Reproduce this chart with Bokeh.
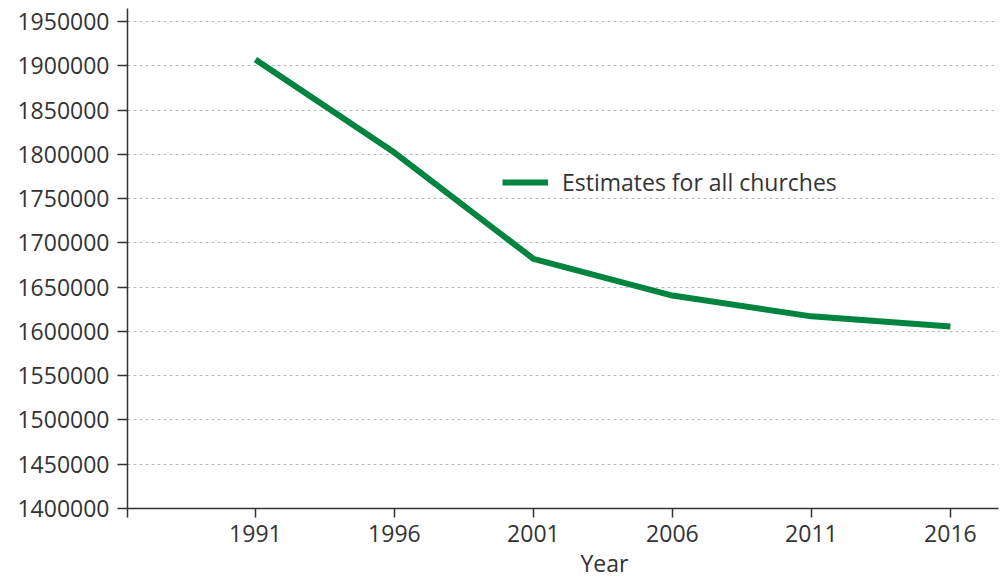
from bokeh.plotting import figure
from bokeh.models import ColumnDataSource, Range1d, FixedTicker, Legend, LegendItem, Title
from bokeh.embed import file_html
from bokeh.resources import INLINE

years = [1991, 1996, 2001, 2006, 2011, 2016]
estimates = [1907000, 1802000, 1682000, 1640500, 1617000, 1605500]
y_ticks = [1400000, 1450000, 1500000, 1550000, 1600000, 1650000, 1700000,
           1750000, 1800000, 1850000, 1900000, 1950000]
series_name = "Estimates for all churches"
x_label = "Year"

FONT = "Open Sans"
TXT = "#333333"
GREEN = "#00843f"
FS = "23px"

x0, x1 = 1986.4, 2017.73
p = figure(width=1001, height=578, output_backend="svg", toolbar_location=None,
           x_range=Range1d(x0, x1), y_range=Range1d(1400000, 1964700),
           min_border_left=127, min_border_right=3, min_border_top=8, min_border_bottom=70)
p.outline_line_color = None
p.background_fill_color = "white"

src = ColumnDataSource(dict(x=years, y=estimates))
r = p.line("x", "y", source=src, line_color=GREEN, line_width=6)

# axes
for ax in (p.xaxis[0], p.yaxis[0]):
    ax.axis_line_color = TXT
    ax.axis_line_width = 1.5
    ax.major_tick_line_color = TXT
    ax.major_tick_line_width = 1.5
    ax.major_tick_out = 10
    ax.major_tick_in = 0
    ax.minor_tick_line_color = None
    ax.major_label_text_font = FONT
    ax.major_label_text_font_size = FS
    ax.major_label_text_color = TXT
    ax.major_label_standoff = 8
p.xaxis.major_label_standoff = 7
p.xaxis.major_tick_out = 9

p.xaxis.ticker = FixedTicker(ticks=[x0] + years)
p.xaxis.major_label_overrides = {x0: ""}
p.yaxis.ticker = FixedTicker(ticks=y_ticks)
p.yaxis.formatter.use_scientific = False

p.xgrid.grid_line_color = None
p.ygrid.grid_line_color = "#bbbbbb"
p.ygrid.grid_line_dash = "3 3"
p.ygrid.grid_line_width = 1

legend = Legend(items=[LegendItem(label=series_name, renderers=[r])],
                location=(375, 310), padding=0, margin=0, spacing=0,
                glyph_width=46, glyph_height=20, label_standoff=14,
                border_line_color=None, background_fill_alpha=0,
                label_text_font=FONT, label_text_font_size=FS,
                label_text_color=TXT)
p.add_layout(legend, "center")

p.add_layout(Title(text=x_label, align="left", offset=453, standoff=0,
                   text_font=FONT, text_font_size=FS, text_font_style="normal",
                   text_color=TXT), "below")

open("out.html", "w").write(file_html(p, INLINE))
